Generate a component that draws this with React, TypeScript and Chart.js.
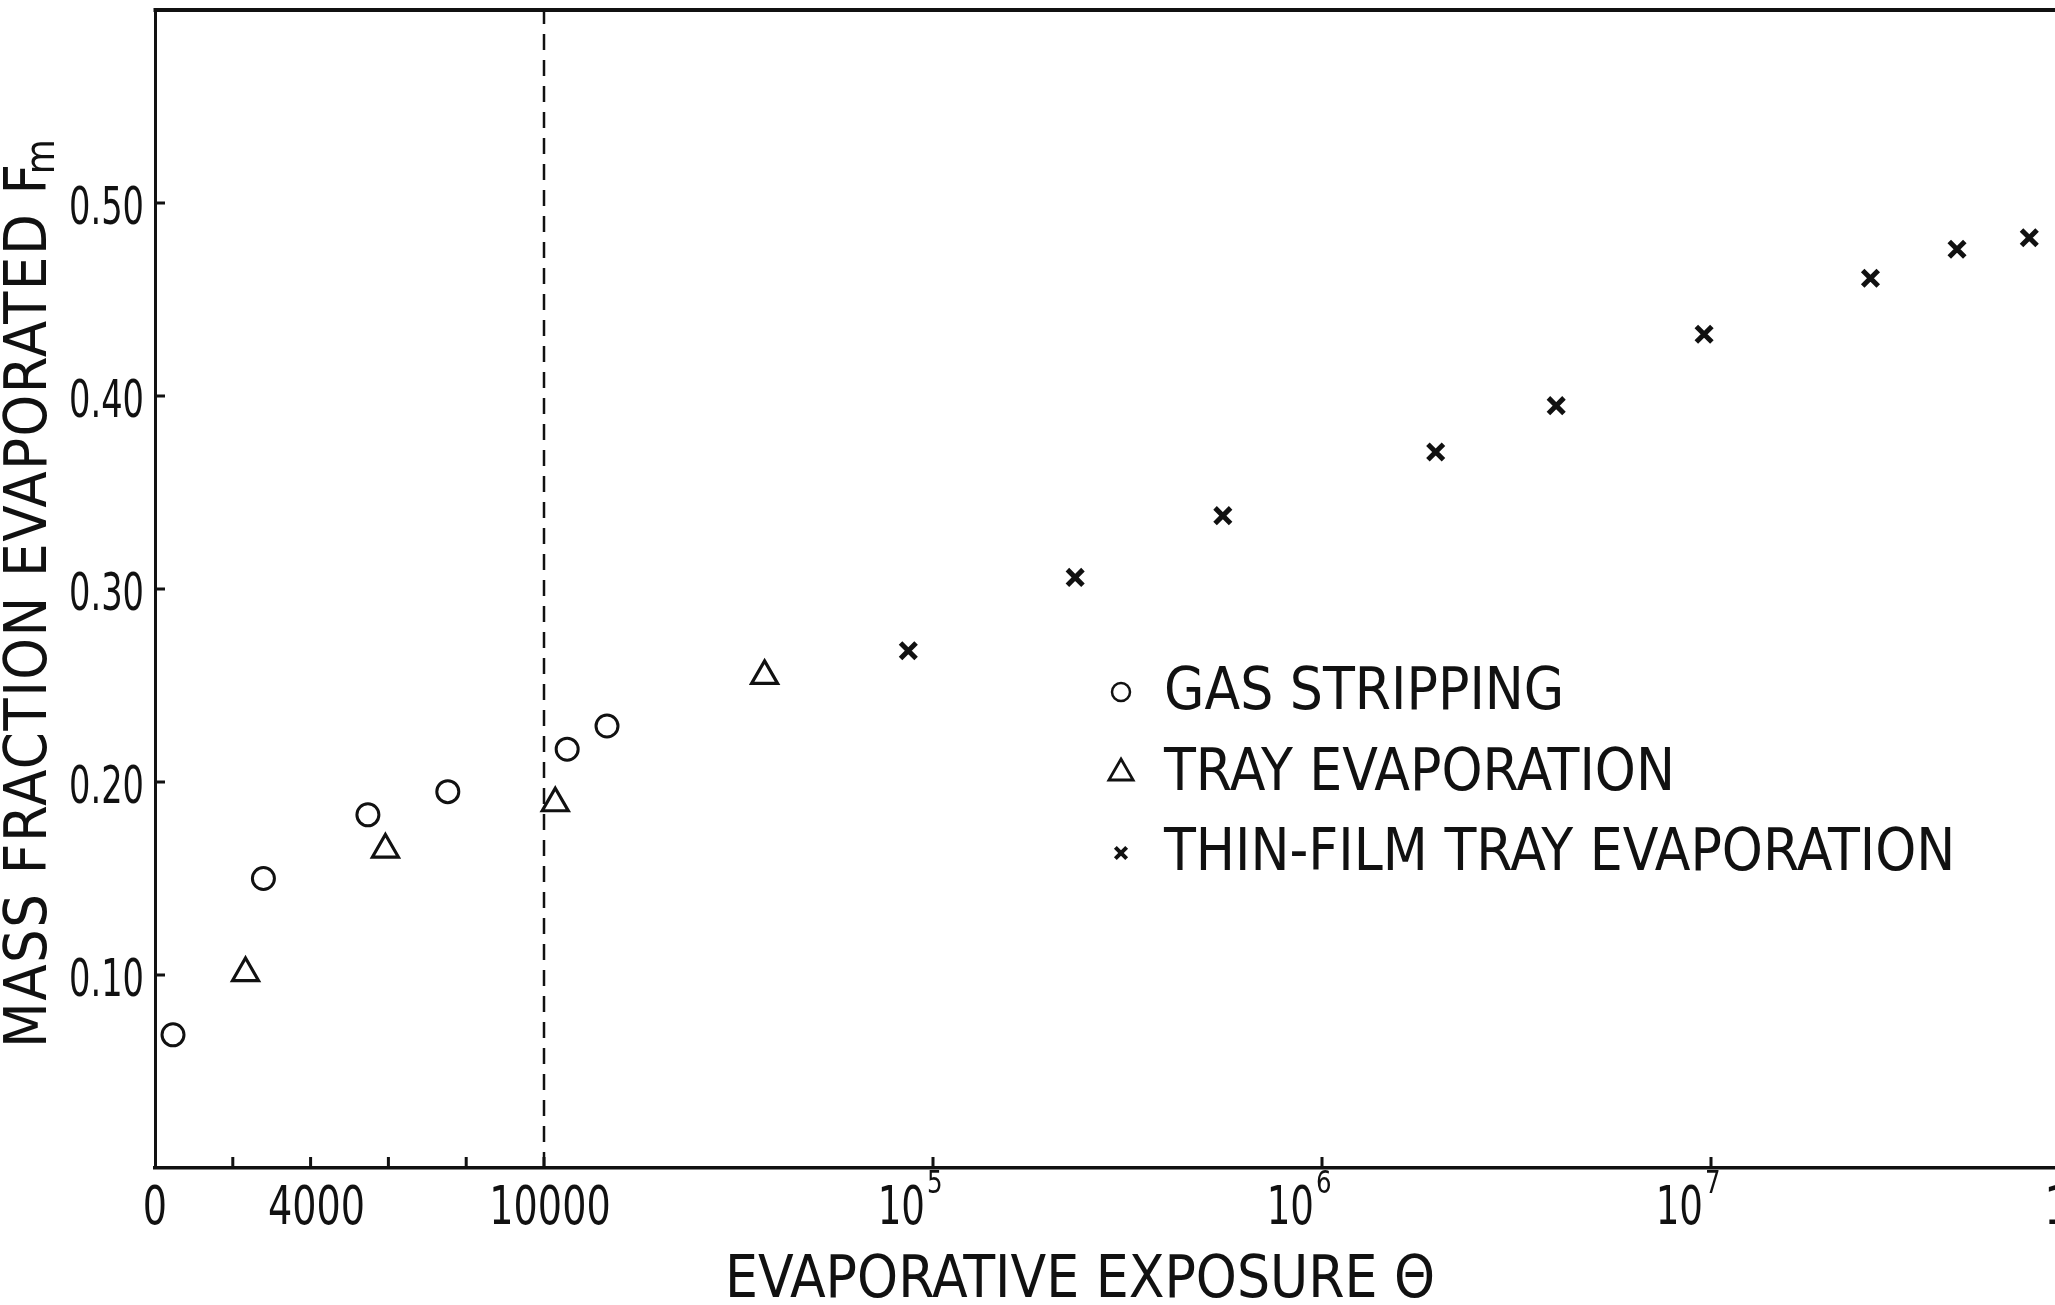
import React, { useEffect, useRef } from 'react';
import { Chart, registerables, LinearScale } from 'chart.js';

// ---------------- data ----------------
const gasExposure = [463, 2787, 5473, 7527, 11470, 14520];
const gasFraction = [0.069, 0.150, 0.183, 0.195, 0.217, 0.229];

const trayExposure = [2327, 5923, 10690, 36900];
const trayFraction = [0.101, 0.165, 0.189, 0.255];

const thinExposure = [86400, 232000, 556000, 1960000, 4000000, 9600000, 25700000, 42900000, 65800000];
const thinFraction = [0.268, 0.306, 0.338, 0.371, 0.395, 0.432, 0.461, 0.476, 0.482];

const boundaryExposure = [10000, 10000];
const boundaryFraction = [0, 0.6];

const xTickValues = [0, 2000, 4000, 6000, 8000, 10000, 1e5, 1e6, 1e7, 1e8];
const xTickLabels = ['0', '', '4000', '', '', '10000', '10', '10', '10', '10'];
const xTickExponents = ['', '', '', '', '', '', '5', '6', '7', '8'];
const yTickValues = [0.1, 0.2, 0.3, 0.4, 0.5];
const yTickLabels = ['0.10', '0.20', '0.30', '0.40', '0.50'];

const seriesNames = ['GAS STRIPPING', 'TRAY EVAPORATION', 'THIN-FILM TRAY EVAPORATION'];
const xTitle = 'EVAPORATIVE EXPOSURE Θ';
const yTitle = 'MASS FRACTION EVAPORATED F';
const yTitleSub = 'm';

const LINEAR_LIMIT = 10000;
const X_MIN = 0;
const X_MAX = 1e8;
const Y_MIN = 0;
const Y_MAX = 0.6;

// ---------------- style ----------------
const INK = '#111';
const FONT = '"Liberation Sans Narrow", "DejaVu Sans Condensed", "DejaVu Sans", sans-serif';

// linear up to 10000, then one decade per unit
function toU(v: number) {
  return v <= LINEAR_LIMIT ? v / LINEAR_LIMIT : 1 + Math.log10(v / LINEAR_LIMIT);
}
function fromU(u: number) {
  return u <= 1 ? u * LINEAR_LIMIT : LINEAR_LIMIT * Math.pow(10, u - 1);
}

class LinLogScale extends LinearScale {
  static id = 'linlog';
  static defaults = {};
  determineDataLimits() {
    const o: any = this.options;
    this.min = o.min ?? X_MIN;
    this.max = o.max ?? X_MAX;
  }
  buildTicks() {
    return xTickValues.filter((v) => v >= this.min && v <= this.max).map((value) => ({ value }));
  }
  getPixelForValue(value: number) {
    if (value === null || value === undefined || isNaN(value)) return NaN;
    const u0 = toU(this.min);
    const u1 = toU(this.max);
    return this.getPixelForDecimal((toU(value) - u0) / (u1 - u0));
  }
  getValueForPixel(pixel: number) {
    const u0 = toU(this.min);
    const u1 = toU(this.max);
    return fromU(u0 + this.getDecimalForPixel(pixel) * (u1 - u0));
  }
}

Chart.register(...registerables, LinLogScale as any);

function pts(xs: number[], ys: number[]) {
  return xs.map((x, i) => ({ x, y: ys[i] }));
}

const CANVAS_W = 2200;
const CANVAS_H = 1305;
const AREA_LEFT = 155;
const AREA_TOP = 10;
const AREA_RIGHT = 2100;
const AREA_BOTTOM = 1168;

function drawSymbol(ctx: CanvasRenderingContext2D, kind: string, x: number, y: number, r: number) {
  ctx.beginPath();
  if (kind === 'circle') {
    ctx.arc(x, y, r, 0, Math.PI * 2);
  } else if (kind === 'triangle') {
    ctx.moveTo(x, y - r);
    ctx.lineTo(x + Math.sin((2 * Math.PI) / 3) * r, y + 0.5 * r);
    ctx.lineTo(x - Math.sin((2 * Math.PI) / 3) * r, y + 0.5 * r);
    ctx.closePath();
  } else {
    const d = r * Math.SQRT1_2;
    ctx.moveTo(x - d, y - d);
    ctx.lineTo(x + d, y + d);
    ctx.moveTo(x + d, y - d);
    ctx.lineTo(x - d, y + d);
  }
  ctx.stroke();
}

// draw text horizontally condensed by sx, anchored per align
function condensedText(ctx: CanvasRenderingContext2D, text: string, x: number, y: number, sx: number, align: 'left' | 'right' | 'center') {
  const w = ctx.measureText(text).width * sx;
  let left = x;
  if (align === 'right') left = x - w;
  else if (align === 'center') left = x - w / 2;
  ctx.save();
  ctx.translate(left, y);
  ctx.scale(sx, 1);
  ctx.textAlign = 'left';
  ctx.fillText(text, 0, 0);
  ctx.restore();
  return w;
}

const overlay = {
  id: 'overlay',
  afterDraw(chart: any) {
    const { ctx, chartArea: ca } = chart;
    const x = chart.scales.x;
    const y = chart.scales.y;
    ctx.save();
    ctx.strokeStyle = INK;
    ctx.fillStyle = INK;

    // top frame line
    ctx.lineWidth = 4;
    ctx.beginPath();
    ctx.moveTo(ca.left - 1.5, ca.top);
    ctx.lineTo(ca.right, ca.top);
    ctx.stroke();

    // inward tick marks
    ctx.lineWidth = 3;
    ctx.beginPath();
    x.ticks.forEach((t: any) => {
      if (t.value <= X_MIN || t.value >= X_MAX) return;
      const px = x.getPixelForValue(t.value);
      ctx.moveTo(px, ca.bottom);
      ctx.lineTo(px, ca.bottom - 11);
    });
    yTickValues.forEach((v) => {
      const py = y.getPixelForValue(v);
      ctx.moveTo(ca.left, py);
      ctx.lineTo(ca.left + 10, py);
    });
    ctx.stroke();

    // x tick labels
    ctx.textBaseline = 'alphabetic';
    xTickValues.forEach((v, i) => {
      const label = xTickLabels[i];
      if (!label) return;
      const px = x.getPixelForValue(v);
      const exp = xTickExponents[i];
      ctx.font = `53px ${FONT}`;
      if (exp) {
        condensedText(ctx, label, px - 8, ca.bottom + 56, 0.78, 'right');
        ctx.font = `32px ${FONT}`;
        condensedText(ctx, exp, px - 6, ca.bottom + 25, 0.85, 'left');
      } else {
        condensedText(ctx, label, px + (v > 0 ? 6 : 0), ca.bottom + 56, 0.8, 'center');
      }
    });

    // y tick labels
    ctx.font = `52px ${FONT}`;
    yTickValues.forEach((v, i) => {
      const py = y.getPixelForValue(v);
      condensedText(ctx, yTickLabels[i], ca.left - 11, py + 21, 0.72, 'right');
    });

    // legend
    const lx = 1121;
    const tx = 1164;
    const rows = [692, 773, 853];
    const kinds = ['circle', 'triangle', 'cross'];
    const radii = [9, 14, 8];
    const widths = [2.5, 2.8, 4];
    ctx.font = `58px ${FONT}`;
    ctx.textAlign = 'left';
    ctx.textBaseline = 'middle';
    rows.forEach((ry, i) => {
      ctx.lineWidth = widths[i];
      drawSymbol(ctx, kinds[i], lx, ry, radii[i]);
      ctx.fillText(seriesNames[i], tx, ry + 2);
    });

    // x title
    ctx.font = `58px ${FONT}`;
    ctx.textAlign = 'left';
    ctx.textBaseline = 'alphabetic';
    ctx.fillText(xTitle, 725, 1297);

    // y title (rotated) with subscript
    ctx.save();
    ctx.translate(46, 1048);
    ctx.rotate(-Math.PI / 2);
    ctx.font = `59px ${FONT}`;
    ctx.textAlign = 'left';
    ctx.textBaseline = 'alphabetic';
    (ctx as any).letterSpacing = '1.5px';
    ctx.fillText(yTitle, 0, 0);
    const w = ctx.measureText(yTitle).width;
    (ctx as any).letterSpacing = '0px';
    ctx.font = `40px ${FONT}`;
    ctx.fillText(yTitleSub, w - 12, 8);
    ctx.restore();

    ctx.restore();
  },
};

export default function App() {
  const ref = useRef<HTMLCanvasElement>(null);

  useEffect(() => {
    document.documentElement.style.overflow = 'hidden';
    document.body.style.overflow = 'hidden';
    const canvas = ref.current;
    if (!canvas) return;
    const chart = new Chart(canvas, {
      type: 'scatter',
      data: {
        datasets: [
          {
            label: 'boundary',
            data: pts(boundaryExposure, boundaryFraction),
            showLine: true,
            borderColor: INK,
            borderWidth: 2.5,
            borderDash: [16, 10],
            pointRadius: 0,
            fill: false,
          },
          {
            label: seriesNames[0],
            data: pts(gasExposure, gasFraction),
            pointStyle: 'circle',
            pointRadius: 11,
            borderWidth: 3,
            borderColor: INK,
            backgroundColor: 'rgba(0,0,0,0)',
          },
          {
            label: seriesNames[1],
            data: pts(trayExposure, trayFraction),
            pointStyle: 'triangle',
            pointRadius: 15,
            borderWidth: 3.2,
            borderColor: INK,
            backgroundColor: 'rgba(0,0,0,0)',
          },
          {
            label: seriesNames[2],
            data: pts(thinExposure, thinFraction),
            pointStyle: 'crossRot',
            pointRadius: 11,
            borderWidth: 5,
            borderColor: INK,
            backgroundColor: INK,
          },
        ],
      },
      options: {
        animation: false,
        responsive: false,
        devicePixelRatio: 1,
        events: [],
        layout: {
          autoPadding: false,
          padding: { left: 0, top: AREA_TOP, right: CANVAS_W - AREA_RIGHT, bottom: 0 },
        },
        plugins: {
          legend: { display: false },
          tooltip: { enabled: false },
        },
        scales: {
          x: {
            type: 'linlog' as any,
            min: X_MIN,
            max: X_MAX,
            grid: { display: false },
            border: { display: true, color: INK, width: 3.5 },
            ticks: { display: false, autoSkip: false },
            afterFit: (s: any) => {
              s.height = CANVAS_H - AREA_BOTTOM;
              s.paddingLeft = 0;
              s.paddingRight = 0;
            },
          },
          y: {
            type: 'linear',
            min: Y_MIN,
            max: Y_MAX,
            grid: { display: false },
            border: { display: true, color: INK, width: 3 },
            ticks: { display: false, stepSize: 0.1 },
            afterFit: (s: any) => {
              s.width = AREA_LEFT;
              s.paddingTop = 0;
              s.paddingBottom = 0;
            },
          },
        },
      },
      plugins: [overlay],
    } as any);
    return () => chart.destroy();
  }, []);

  return (
    <div style={{ position: 'absolute', left: 0, top: 0, width: CANVAS_W, height: CANVAS_H, background: '#fff' }}>
      <canvas ref={ref} width={CANVAS_W} height={CANVAS_H} style={{ display: 'block', width: CANVAS_W, height: CANVAS_H }} />
    </div>
  );
}
